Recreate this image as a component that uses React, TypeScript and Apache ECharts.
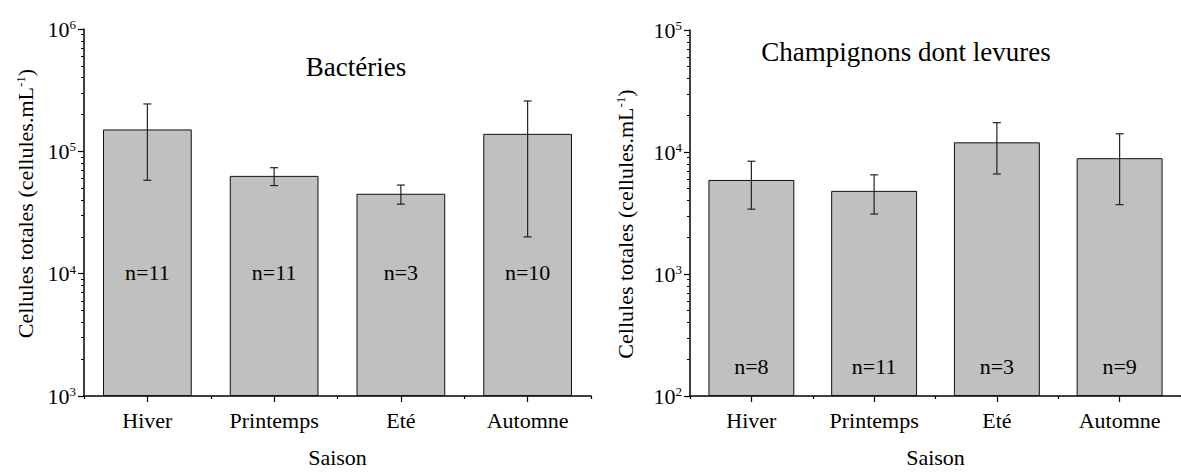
import React, { useEffect, useRef } from "react";
import * as echarts from "echarts";

const categories = ["Hiver", "Printemps", "Eté", "Automne"];

const bactMean = [151000, 63000, 45000, 139000];
const bactSd = [93000, 10500, 8000, 119000];
const bactN = [11, 11, 3, 10];

const fungMean = [5900, 4800, 12000, 8900];
const fungSd = [2500, 1700, 5400, 5200];
const fungN = [8, 11, 3, 9];

const bactMajorTicks = [1e3, 1e4, 1e5, 1e6];
const fungMajorTicks = [1e2, 1e3, 1e4, 1e5];
const minorMultipliers = [2, 3, 4, 5, 6, 7, 8, 9];

const FONT = "Liberation Serif";

function minorTicks(majors: number[]) {
  const out: number[] = [];
  for (let i = 0; i < majors.length - 1; i++) {
    for (const m of minorMultipliers) out.push(majors[i] * m);
  }
  return out;
}

const richPow = {
  b: { fontSize: 22, fontFamily: FONT, color: "#000", verticalAlign: "bottom" },
  s: { fontSize: 13, fontFamily: FONT, color: "#000", verticalAlign: "top" },
};

function powLabel(v: number) {
  return `{b|10}{s|${Math.round(Math.log10(v))}}`;
}

function errData(mean: number[], sd: number[]) {
  return mean.map((m, i) => [i, m - sd[i], m + sd[i]]);
}

const renderErr = (params: any, api: any) => {
  const x = api.value(0);
  const lo = api.coord([x, api.value(1)]);
  const hi = api.coord([x, api.value(2)]);
  const w = 4;
  const style = { stroke: "#222", lineWidth: 1.2 };
  return {
    type: "group",
    children: [
      { type: "line", shape: { x1: hi[0], y1: hi[1], x2: lo[0], y2: lo[1] }, style },
      { type: "line", shape: { x1: hi[0] - w, y1: hi[1], x2: hi[0] + w, y2: hi[1] }, style },
      { type: "line", shape: { x1: lo[0] - w, y1: lo[1], x2: lo[0] + w, y2: lo[1] }, style },
    ],
  };
};

function xAxes(gridIndex: number, nameGap: number) {
  return [
    {
      gridIndex,
      type: "category",
      position: "bottom",
      data: categories,
      boundaryGap: true,
      axisLine: { show: true, lineStyle: { color: "#000", width: 1.5 } },
      axisTick: { show: true, alignWithLabel: true, length: 6, lineStyle: { color: "#000", width: 1.2 } },
      axisLabel: { fontSize: 22, fontFamily: FONT, color: "#000", margin: 13 },
      name: "Saison",
      nameLocation: "middle",
      nameGap,
      nameTextStyle: { fontSize: 22, fontFamily: FONT, color: "#000" },
      splitLine: { show: false },
    },
    {
      gridIndex,
      type: "category",
      position: "bottom",
      data: categories,
      boundaryGap: true,
      axisLine: { show: false },
      axisTick: { show: true, length: 3, lineStyle: { color: "#000", width: 1.2 } },
      axisLabel: { show: false },
      splitLine: { show: false },
    },
  ];
}

function yAxes(gridIndex: number, majors: number[], nameGap: number, namePad: number[]) {
  const min = majors[0];
  const max = majors[majors.length - 1];
  return [
    {
      gridIndex,
      type: "log",
      logBase: 10,
      min,
      max,
      startValue: min,
      position: "left",
      axisLine: { show: true, lineStyle: { color: "#000", width: 1.5 } },
      axisTick: { show: true, length: 6, customValues: majors, lineStyle: { color: "#000", width: 1.2 } },
      axisLabel: {
        customValues: majors,
        margin: 8,
        formatter: powLabel,
        rich: richPow,
        color: "#000",
        fontFamily: FONT,
      },
      splitLine: { show: false },
      name: "{a|Cellules totales (cellules.mL}{s|-1}{a|)}",
      nameLocation: "middle",
      nameGap,
      nameTextStyle: {
        color: "#000",
        fontFamily: FONT,
        fontSize: 22,
        padding: namePad,
        rich: {
          a: { fontSize: 22, fontFamily: FONT, color: "#000", verticalAlign: "bottom" },
          s: { fontSize: 13, fontFamily: FONT, color: "#000", verticalAlign: "top" },
        },
      },
    },
    {
      gridIndex,
      type: "log",
      logBase: 10,
      min,
      max,
      position: "left",
      axisLine: { show: false },
      axisTick: { show: true, length: 3, customValues: minorTicks(majors), lineStyle: { color: "#000", width: 1 } },
      axisLabel: { show: false },
      splitLine: { show: false },
    },
  ];
}

function barSeries(xi: number, yi: number, values: number[], ns: number[], dist: number) {
  return {
    type: "bar",
    xAxisIndex: xi,
    yAxisIndex: yi,
    data: values,
    barWidth: "70%",
    itemStyle: { color: "#c0c0c0", borderColor: "#111", borderWidth: 1 },
    label: {
      show: true,
      position: "insideBottom",
      distance: dist,
      formatter: (p: any) => `n=${ns[p.dataIndex]}`,
      fontSize: 22,
      fontFamily: FONT,
      color: "#000",
    },
    z: 2,
  };
}

function errSeries(xi: number, yi: number, mean: number[], sd: number[]) {
  return {
    type: "custom",
    xAxisIndex: xi,
    yAxisIndex: yi,
    data: errData(mean, sd),
    encode: { x: 0, y: [1, 2] },
    renderItem: renderErr,
    z: 5,
  };
}

export default function App() {
  const ref = useRef<HTMLDivElement>(null);
  useEffect(() => {
    if (!ref.current) return;
    const chart = echarts.init(ref.current, undefined, { renderer: "svg" });
    chart.setOption({
      animation: false,
      backgroundColor: "#fff",
      textStyle: { fontFamily: FONT, color: "#000" },
      grid: [
        { left: 84, top: 29, width: 507, height: 375, containLabel: false },
        { left: 690, top: 30, width: 492, height: 372, containLabel: false },
      ],
      xAxis: [...xAxes(0, 50), ...xAxes(1, 50)],
      yAxis: [
        ...yAxes(0, bactMajorTicks, 48, [0, 0, 0, 18]),
        ...yAxes(1, fungMajorTicks, 54, [0, 22, 0, 0]),
      ],
      graphic: [
        {
          type: "text",
          x: 356,
          y: 67,
          style: { text: "Bactéries", fontSize: 27, fontFamily: FONT, fill: "#000", align: "center", verticalAlign: "middle" },
        },
        {
          type: "text",
          x: 906,
          y: 52,
          style: { text: "Champignons dont levures", fontSize: 27, fontFamily: FONT, fill: "#000", align: "center", verticalAlign: "middle" },
        },
      ],
      series: [
        barSeries(0, 0, bactMean, bactN, 113),
        errSeries(0, 0, bactMean, bactSd),
        barSeries(2, 2, fungMean, fungN, 19),
        errSeries(2, 2, fungMean, fungSd),
      ],
    });
    return () => chart.dispose();
  }, []);
  return (
    <div
      ref={ref}
      style={{ position: "fixed", left: 0, top: 0, width: 1181, height: 473, background: "#fff" }}
    />
  );
}
